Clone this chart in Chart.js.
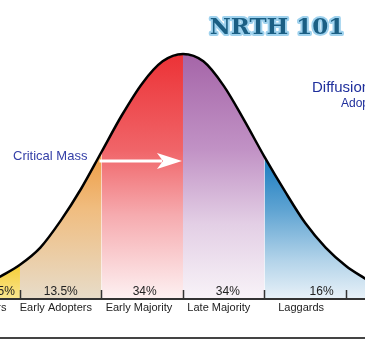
<!DOCTYPE html>
<html>
<head>
<meta charset="utf-8">
<script src="https://cdn.jsdelivr.net/npm/chart.js@4"></script>
<style>
  body { margin: 0; background: #fff; }
  #wrap { width: 365px; height: 340px; }
</style>
</head>
<body>
<div id="wrap"><canvas id="bell" width="365" height="340"></canvas></div>
<script>
// Adopter categories (left to right) and their shares
const categories = ['Innovators', 'Early Adopters', 'Early Majority', 'Late Majority', 'Laggards'];
const shares = ['2.5%', '13.5%', '34%', '34%', '16%'];
// Category boundaries, in standard deviations from the mean
const bounds = [-2.25, -2, -1, 0, 1, 2.25];
// Bell curve: x in std devs, y relative to peak height
const curveX = [-2.25, -2, -1.75, -1.5, -1.25, -1, -0.75, -0.5, -0.25, 0, 0.25, 0.5, 0.75, 1, 1.25, 1.5, 1.75, 2, 2.25];
const curveY = [0.09, 0.14, 0.21, 0.32, 0.45, 0.6, 0.75, 0.88, 0.97, 1, 0.97, 0.87, 0.73, 0.58, 0.44, 0.31, 0.21, 0.135, 0.08];
// Tick marks on the baseline
const tickX = [-2, -1, 0, 1, 2];

// Gradient stops per category: [fraction of plot height, colour]
const gradStops = [
  [[0.85, '#f5c518'], [1, '#f9e690']],
  [[0.5, '#ee9a40'], [0.7, '#f0bd80'], [1, '#e7dcc9']],
  [[0.18, '#ec3236'], [0.5, '#f06468'], [0.72, '#f6abaf'], [1, '#fdf1f2']],
  [[0.18, '#a565a8'], [0.5, '#c192c5'], [0.75, '#e3cfe5'], [1, '#f8f3f8']],
  [[0.53, '#1a7cc0'], [0.7, '#5ea3d2'], [0.87, '#b2d3e9'], [1, '#e8f1f8']]
];

const points = curveX.map((x, i) => ({ x: x, y: curveY[i] }));

function makeGradient(idx) {
  return function(context) {
    const area = context.chart.chartArea;
    if (!area) return 'rgba(0,0,0,0)';
    const g = context.chart.ctx.createLinearGradient(0, area.top, 0, area.bottom);
    gradStops[idx].forEach(s => g.addColorStop(s[0], s[1]));
    return g;
  };
}

const datasets = [{
  label: 'curve',
  data: points,
  borderColor: '#000',
  borderWidth: 2.5,
  fill: false,
  pointRadius: 0,
  cubicInterpolationMode: 'monotone'
}];

categories.forEach((name, i) => {
  datasets.push({
    label: name,
    data: points.filter(p => p.x >= bounds[i] && p.x <= bounds[i + 1]),
    borderWidth: 0,
    borderColor: 'rgba(0,0,0,0)',
    backgroundColor: makeGradient(i),
    fill: 'origin',
    pointRadius: 0,
    cubicInterpolationMode: 'monotone'
  });
});

// Text, ticks and arrow drawn on top of the curve
const decorations = {
  id: 'decorations',
  afterDatasetsDraw(chart) {
    const c = chart.ctx;
    const xs = chart.scales.x;
    const ys = chart.scales.y;
    const base = ys.getPixelForValue(0);
    c.save();

    // baseline and ticks
    c.strokeStyle = '#333';
    c.lineWidth = 2;
    c.beginPath();
    c.moveTo(0, base);
    c.lineTo(chart.width, base);
    c.stroke();
    c.lineWidth = 1.5;
    tickX.forEach(t => {
      const px = Math.round(xs.getPixelForValue(t)) + 0.5;
      c.beginPath();
      c.moveTo(px, base - 9);
      c.lineTo(px, base);
      c.stroke();
    });
    // bottom rule
    c.lineWidth = 2;
    c.strokeStyle = '#444';
    c.beginPath();
    c.moveTo(0, 338);
    c.lineTo(chart.width, 338);
    c.stroke();

    // shares and category names
    const shareAt = [-2.23, -1.5, -0.47, 0.55, 1.7];
    const nameAt = [-2.48, -1.56, -0.54, 0.44, 1.45];
    c.fillStyle = '#222';
    c.textAlign = 'center';
    c.textBaseline = 'middle';
    c.font = '12px "Liberation Sans", Arial, sans-serif';
    shares.forEach((s, i) => c.fillText(s, xs.getPixelForValue(shareAt[i]), base - 7.5));
    c.font = '11px "Liberation Sans", Arial, sans-serif';
    categories.forEach((n, i) => c.fillText(n, xs.getPixelForValue(nameAt[i]), base + 9));

    // critical mass arrow
    const ay = 161;
    const x0 = xs.getPixelForValue(-1) - 2;
    const x1 = xs.getPixelForValue(0) - 1;
    c.strokeStyle = '#fff';
    c.fillStyle = '#fff';
    c.lineWidth = 3;
    c.beginPath();
    c.moveTo(x0, ay);
    c.lineTo(x1 - 20, ay);
    c.stroke();
    c.beginPath();
    c.moveTo(x1, ay);
    c.lineTo(x1 - 25, ay - 8);
    c.lineTo(x1 - 19, ay);
    c.lineTo(x1 - 25, ay + 8);
    c.closePath();
    c.fill();

    c.fillStyle = '#3540a8';
    c.textAlign = 'left';
    c.font = '13px "Liberation Sans", Arial, sans-serif';
    c.fillText('Critical Mass', 13, 156);

    c.fillStyle = '#1f2f9c';
    c.font = '15px "Liberation Sans", Arial, sans-serif';
    c.fillText('Diffusion of Innovations', 312, 88);
    c.font = '12px "Liberation Sans", Arial, sans-serif';
    c.fillText('Adopter Categories', 341, 104);

    // title
    c.textAlign = 'center';
    c.font = 'bold 23px "DejaVu Serif", serif';
    c.lineJoin = 'round';
    c.strokeStyle = '#9fd2ee';
    c.lineWidth = 4;
    c.strokeText('NRTH 101', 277, 28);
    c.fillStyle = '#1b5f84';
    c.fillText('NRTH 101', 277, 28);
    c.restore();
  }
};

new Chart(document.getElementById('bell'), {
  type: 'line',
  data: { datasets: datasets },
  options: {
    responsive: false,
    animation: false,
    devicePixelRatio: 1,
    layout: { padding: { left: 0, right: 0, top: 0, bottom: 41 } },
    plugins: { legend: { display: false }, tooltip: { enabled: false } },
    scales: {
      x: { type: 'linear', display: false, min: -2.245, max: 2.233 },
      y: { display: false, min: 0, max: 1.2204 }
    }
  },
  plugins: [decorations]
});
</script>
</body>
</html>
